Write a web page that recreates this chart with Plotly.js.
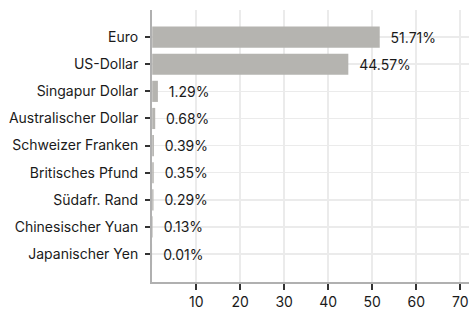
<!DOCTYPE html>
<html>
<head>
<meta charset="utf-8">
<script src="https://cdn.plot.ly/plotly-3.0.1.min.js"></script>
<style>html,body{margin:0;padding:0;background:#fff;}#chart{width:469px;height:309px;}</style>
</head>
<body>
<div id="chart"></div>
<script>
var categories = ["Euro", "US-Dollar", "Singapur Dollar", "Australischer Dollar", "Schweizer Franken", "Britisches Pfund", "Südafr. Rand", "Chinesischer Yuan", "Japanischer Yen"];
var shares = [51.71, 44.57, 1.29, 0.68, 0.39, 0.35, 0.29, 0.13, 0.01];
var xTicks = [10, 20, 30, 40, 50, 60, 70];

var labels = shares.map(function (v) { return "  " + v.toFixed(2) + "%"; });

var trace = {
  type: "bar",
  orientation: "h",
  x: shares,
  y: categories,
  text: labels,
  textposition: "outside",
  cliponaxis: false,
  textfont: {family: "Inter, Roboto, sans-serif", size: 14, color: "#1a1a1a"},
  marker: {color: "#b5b4b0"},
  width: 0.78,
  hoverinfo: "none"
};

var layout = {
  width: 469,
  height: 309,
  margin: {l: 152, r: 0, t: 10, b: 27},
  paper_bgcolor: "#ffffff",
  plot_bgcolor: "#ffffff",
  showlegend: false,
  font: {family: "Inter, Roboto, sans-serif", size: 14, color: "#1a1a1a"},
  xaxis: {
    range: [-0.05, 72],
    tickvals: xTicks,
    ticktext: xTicks.map(String),
    ticks: "outside",
    ticklen: 6,
    tickwidth: 2,
    tickcolor: "#333",
    showgrid: true,
    gridcolor: "#ebebeb",
    gridwidth: 1.5,
    zeroline: false,
    showline: true,
    linecolor: "#b0b0b0",
    linewidth: 2,
    tickfont: {size: 14},
    fixedrange: true
  },
  yaxis: {
    type: "category",
    categoryorder: "array",
    categoryarray: categories,
    range: [9.03, -1],
    ticks: "outside",
    ticklen: 5,
    tickwidth: 2,
    tickcolor: "#333",
    ticklabelstandoff: 4,
    showgrid: true,
    gridcolor: "#ebebeb",
    gridwidth: 1.5,
    zeroline: false,
    showline: true,
    linecolor: "#b0b0b0",
    linewidth: 2,
    tickfont: {size: 14},
    fixedrange: true
  }
};

Plotly.newPlot("chart", [trace], layout, {displayModeBar: false, staticPlot: true});
</script>
</body>
</html>
